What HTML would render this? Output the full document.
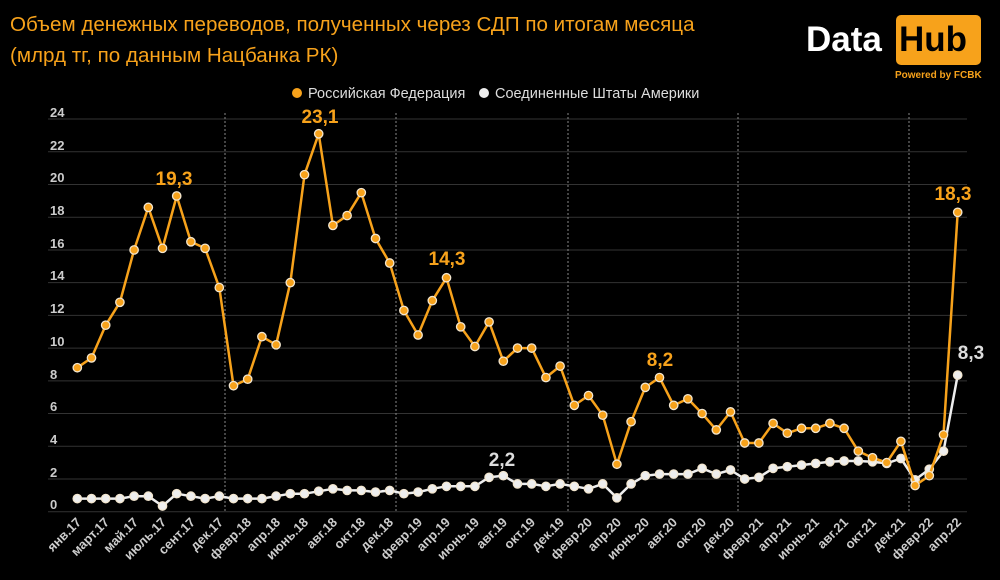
<!DOCTYPE html>
<html><head><meta charset="utf-8"><style>
html,body{margin:0;padding:0;background:#000;}
body{width:1000px;height:580px;overflow:hidden;position:relative;font-family:"Liberation Sans",sans-serif;}
.t{position:absolute;left:10px;color:#f7a21b;font-size:20.6px;}
</style></head><body>
<div class="t" style="top:13px">Объем денежных переводов, полученных через СДП по итогам месяца</div>
<div class="t" style="top:44px">(млрд тг, по данным Нацбанка РК)</div>
<div style="position:absolute;left:806px;top:20px;color:#fff;font-weight:bold;font-size:35px;">Data</div>
<div style="position:absolute;left:896px;top:15px;width:85px;height:50px;background:#f7a21b;border-radius:5px;"></div>
<div style="position:absolute;left:899px;top:20px;color:#000;font-weight:bold;font-size:35px;">Hub</div>
<div style="position:absolute;left:895px;top:70px;color:#f7a21b;font-weight:bold;font-size:10px;">Powered by FCBK</div>
<svg id="s" width="1000" height="580" style="position:absolute;left:0;top:0" font-family="Liberation Sans, sans-serif">
<g id="grid" stroke="#333" stroke-width="1"></g>
<g fill="#ccc" font-size="13" font-weight="bold">
<text x="50" y="117">24</text><text x="50" y="150">22</text><text x="50" y="182">20</text><text x="50" y="215">18</text><text x="50" y="248">16</text><text x="50" y="280">14</text><text x="50" y="313">12</text><text x="50" y="346">10</text><text x="50" y="379">8</text><text x="50" y="411">6</text><text x="50" y="444">4</text><text x="50" y="477">2</text><text x="50" y="509">0</text>
</g>
<g fill="#ccc" font-size="13" font-weight="bold" text-anchor="end">
<text transform="translate(82,523) rotate(-45)">янв.17</text>
<text transform="translate(110,523) rotate(-45)">март.17</text>
<text transform="translate(139,523) rotate(-45)">май.17</text>
<text transform="translate(167,523) rotate(-45)">июль.17</text>
<text transform="translate(196,523) rotate(-45)">сент.17</text>
<text transform="translate(224,523) rotate(-45)">дек.17</text>
<text transform="translate(252,523) rotate(-45)">февр.18</text>
<text transform="translate(281,523) rotate(-45)">апр.18</text>
<text transform="translate(309,523) rotate(-45)">июнь.18</text>
<text transform="translate(338,523) rotate(-45)">авг.18</text>
<text transform="translate(366,523) rotate(-45)">окт.18</text>
<text transform="translate(394,523) rotate(-45)">дек.18</text>
<text transform="translate(423,523) rotate(-45)">февр.19</text>
<text transform="translate(451,523) rotate(-45)">апр.19</text>
<text transform="translate(480,523) rotate(-45)">июнь.19</text>
<text transform="translate(508,523) rotate(-45)">авг.19</text>
<text transform="translate(536,523) rotate(-45)">окт.19</text>
<text transform="translate(565,523) rotate(-45)">дек.19</text>
<text transform="translate(593,523) rotate(-45)">февр.20</text>
<text transform="translate(622,523) rotate(-45)">апр.20</text>
<text transform="translate(650,523) rotate(-45)">июнь.20</text>
<text transform="translate(678,523) rotate(-45)">авг.20</text>
<text transform="translate(707,523) rotate(-45)">окт.20</text>
<text transform="translate(735,523) rotate(-45)">дек.20</text>
<text transform="translate(764,523) rotate(-45)">февр.21</text>
<text transform="translate(792,523) rotate(-45)">апр.21</text>
<text transform="translate(820,523) rotate(-45)">июнь.21</text>
<text transform="translate(849,523) rotate(-45)">авг.21</text>
<text transform="translate(877,523) rotate(-45)">окт.21</text>
<text transform="translate(906,523) rotate(-45)">дек.21</text>
<text transform="translate(934,523) rotate(-45)">февр.22</text>
<text transform="translate(962,523) rotate(-45)">апр.22</text>
</g>
<g id="series"></g>
<g font-size="19" font-weight="bold" text-anchor="middle">
<text x="174" y="185" fill="#f7a21b">19,3</text>
<text x="320" y="123" fill="#f7a21b">23,1</text>
<text x="447" y="265" fill="#f7a21b">14,3</text>
<text x="660" y="366" fill="#f7a21b">8,2</text>
<text x="953" y="200" fill="#f7a21b">18,3</text>
<text x="971" y="359" fill="#ddd">8,3</text>
<text x="502" y="466" fill="#ddd">2,2</text>
</g>
<circle cx="297" cy="93" r="5" fill="#f7a21b"/>
<text x="308" y="98" fill="#ddd" font-size="14.5">Российская Федерация</text>
<circle cx="484" cy="93" r="5" fill="#eee"/>
<text x="495" y="98" fill="#ddd" font-size="14.5">Соединенные Штаты Америки</text>
</svg>
<script>
var NS="http://www.w3.org/2000/svg";
function el(t,a,p){var e=document.createElementNS(NS,t);for(var k in a)e.setAttribute(k,a[k]);p.appendChild(e);return e;}
var g=document.getElementById('grid');
for(var v=0;v<=24;v+=2){var y=511.7-v*16.36;el('line',{x1:48,x2:967,y1:y,y2:y},g);}
[225,396,568,738,909].forEach(function(x){el('line',{x1:x,x2:x,y1:113,y2:512,stroke:'#888','stroke-dasharray':'2,2'},g);});
var o=[8.8,9.4,11.4,12.8,16.0,18.6,16.1,19.3,16.5,16.1,13.7,7.7,8.1,10.7,10.2,14.0,20.6,23.1,17.5,18.1,19.5,16.7,15.2,12.3,10.8,12.9,14.3,11.3,10.1,11.6,
9.2,10.0,10.0,8.2,8.9,6.5,7.1,5.9,2.9,5.5,7.6,8.2,6.5,6.9,6.0,5.0,6.1,4.2,4.2,5.4,4.8,5.1,5.1,5.4,5.1,3.7,3.3,3.0,4.3,1.6,2.2,4.7,18.3];
var w=[0.8,0.8,0.8,0.8,0.95,0.95,0.35,1.1,0.95,0.8,0.95,0.8,0.8,0.8,0.95,1.1,1.1,1.25,1.4,1.3,1.3,1.2,1.3,1.1,1.2,1.4,1.55,1.55,1.55,2.1,
2.2,1.7,1.7,1.55,1.7,1.55,1.4,1.7,0.85,1.7,2.2,2.3,2.3,2.3,2.65,2.3,2.55,2.0,2.1,2.65,2.75,2.85,2.95,3.05,3.1,3.1,3.05,2.95,3.25,1.95,2.6,3.7,8.35];
var s=document.getElementById('series');
function draw(d,c,f){var p=d.map(function(v,i){return (77.3+14.2*i).toFixed(1)+','+(511.7-v*16.36).toFixed(1);}).join(' ');
el('polyline',{points:p,fill:'none',stroke:c,'stroke-width':2.5,'stroke-linejoin':'round'},s);
d.forEach(function(v,i){el('circle',{cx:77.3+14.2*i,cy:511.7-v*16.36,r:4.2,fill:f,stroke:'#f3e6cf','stroke-width':1.3},s);});}
draw(w,'#eeeeee','#eeeeee');
draw(o,'#f7a21b','#f7a21b');
</script>
</body></html>
